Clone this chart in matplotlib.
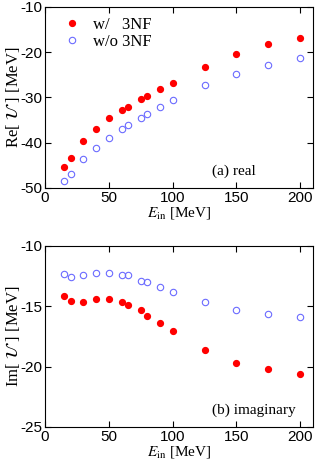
import matplotlib
matplotlib.use("Agg")
import matplotlib.pyplot as plt

plt.rcParams["font.family"] = ["Liberation Sans", "DejaVu Sans"]
plt.rcParams["mathtext.fontset"] = "stix"
plt.rcParams["axes.unicode_minus"] = False

energy = [15, 20, 30, 40, 50, 60, 65, 75, 80, 90, 100, 125, 150, 175, 200]

re_with = [-45.4, -43.3, -39.7, -37.0, -34.6, -32.7, -32.0, -30.3, -29.75,
           -28.2, -26.7, -23.2, -20.4, -18.2, -16.85]
re_without = [-48.4, -46.8, -43.7, -41.1, -38.9, -37.0, -36.0, -34.5, -33.6,
              -32.0, -30.5, -27.25, -24.7, -22.75, -21.2]

im_with = [-14.13, -14.57, -14.6, -14.43, -14.4, -14.6, -14.85, -15.34,
           -15.76, -16.4, -17.03, -18.64, -19.66, -20.19, -20.57]
im_without = [-12.33, -12.55, -12.4, -12.24, -12.22, -12.38, -12.4, -12.9,
              -12.96, -13.38, -13.8, -14.6, -15.3, -15.6, -15.9]

RED = "#ff0000"
BLUE = "#6b6bff"
SERIF = "Liberation Serif"

fig = plt.figure(figsize=(3.16, 4.66), dpi=100)
ax1 = fig.add_axes([45 / 316, 1 - 188 / 466, 268 / 316, 181 / 466])
ax2 = fig.add_axes([45 / 316, 1 - 427 / 466, 268 / 316, 181 / 466])


def style(ax, ylim, yticks, ylabel, tag):
    ax.set_xlim(0, 210)
    ax.set_ylim(*ylim)
    ax.set_xticks([0, 50, 100, 150, 200])
    ax.set_yticks(yticks)
    ax.tick_params(direction="in", top=True, right=True, length=4,
                   width=0.8, labelsize=11, pad=2)
    for s in ax.spines.values():
        s.set_linewidth(0.8)
    ax.set_xlabel(r"$E_{\rm in}$ [MeV]", fontfamily=SERIF, fontsize=11,
                  labelpad=0)
    ax.set_ylabel(ylabel, fontfamily=SERIF, fontsize=12, labelpad=-1)
    ax.text(0.623, 0.09, tag, transform=ax.transAxes, ha="left", va="center",
            fontfamily=SERIF, fontsize=11)


ax1.plot(energy, re_with, "o", color=RED, ms=4.2, mec=RED, label="w/   3NF")
ax1.plot(energy, re_without, "o", mfc="none", mec=BLUE, ms=4.6, mew=0.8,
         label="w/o 3NF")
style(ax1, (-50, -10), [-50, -40, -30, -20, -10],
      r"Re[ $\mathcal{U}$ ] [MeV]", "(a) real")
leg = ax1.legend(loc="upper left", frameon=False, handletextpad=0.3,
                 borderaxespad=0.2, borderpad=0.4, labelspacing=0.05,
                 prop={"family": SERIF, "size": 12})

ax2.plot(energy, im_with, "o", color=RED, ms=4.2, mec=RED)
ax2.plot(energy, im_without, "o", mfc="none", mec=BLUE, ms=4.6, mew=0.8)
style(ax2, (-25, -10), [-25, -20, -15, -10],
      r"Im[ $\mathcal{U}$ ] [MeV]", "(b) imaginary")

fig.savefig("out.png", dpi=100)
